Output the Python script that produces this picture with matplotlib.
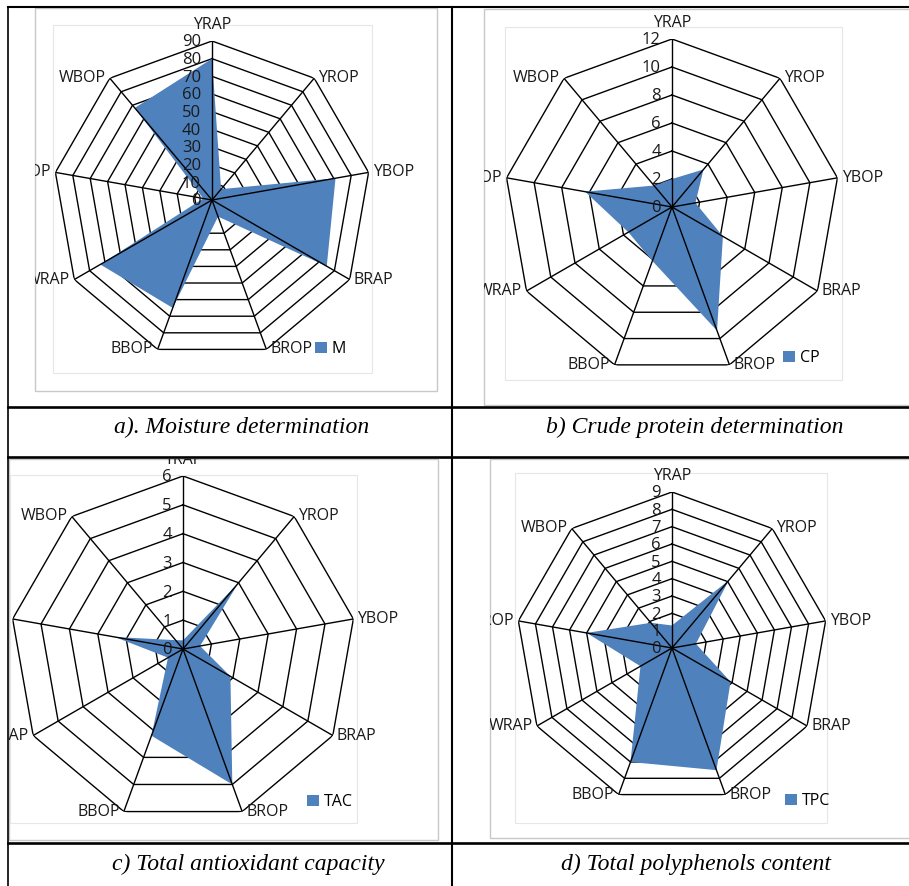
import numpy as np
import matplotlib

matplotlib.use("Agg")
import matplotlib.pyplot as plt  # noqa: E402
from matplotlib.patches import Rectangle  # noqa: E402
from matplotlib.transforms import Bbox, TransformedBbox  # noqa: E402

W, H = 909, 886  # canvas size in pixels

CATEGORIES = ["YRAP", "YROP", "YBOP", "BRAP", "BROP", "BBOP", "WRAP", "WROP", "WBOP"]

MOISTURE = [80, 8, 71, 75, 10, 65, 73, 5, 68]
CRUDE_PROTEIN = [2.0, 3.5, 1.7, 4.2, 9.4, 4.1, 3.6, 6.3, 2.0]
ANTIOXIDANT = [0.3, 3.0, 0.6, 1.9, 5.0, 3.2, 0.6, 2.4, 0.4]
POLYPHENOLS = [1.3, 5.1, 1.4, 3.9, 7.5, 7.0, 2.1, 5.0, 1.9]

M_TICKS = list(range(0, 91, 10))
CP_TICKS = list(range(0, 13, 2))
TAC_TICKS = list(range(0, 7))
TPC_TICKS = list(range(0, 10))

CAPTIONS = [
    "a). Moisture determination",
    "b) Crude protein determination",
    "c) Total antioxidant capacity",
    "d) Total polyphenols content",
]

BLUE = "#4F81BD"
LABEL_FONT = "Open Sans"


def fig_xy(x, y):
    return x / W, 1 - y / H


def radar(fig, bg, values, ticks, name, center, radius, clip, plot_area, legend_at):
    cx, cy = center
    # light chart-area / plot-area frames, drawn on the page axes (pixel units)
    x0, y0, x1, y1 = clip
    bg.add_patch(Rectangle((x0, y0), x1 - x0, y1 - y0, fill=False,
                           edgecolor="#c8c8c8", lw=1.0, zorder=0))
    px0, py0, px1, py1 = plot_area
    bg.add_patch(Rectangle((px0, py0), px1 - px0, py1 - py0, fill=False,
                           edgecolor="#e6e6e6", lw=0.8, zorder=0))

    ax = fig.add_axes([(cx - radius) / W, 1 - (cy + radius) / H,
                       2 * radius / W, 2 * radius / H], projection="polar")
    ax.set_theta_zero_location("N")
    ax.set_theta_direction(-1)
    rmax = ticks[-1]
    ax.set_ylim(0, rmax)
    ax.grid(False)
    ax.set_xticks([])
    ax.set_yticks([])
    ax.spines["polar"].set_visible(False)
    ax.patch.set_alpha(0)

    angles = np.linspace(0, 2 * np.pi, len(CATEGORIES), endpoint=False)
    closed = np.append(angles, angles[0])

    for lvl in ticks[1:]:
        ax.plot(closed, [lvl] * len(closed), color="black", lw=1.0, zorder=1)

    ax.fill(closed, np.append(values, values[0]), color=BLUE, lw=0, zorder=2, label=name)

    for a in angles:
        ax.plot([a, a], [0, rmax], color="black", lw=1.0, zorder=3)

    for t in ticks:
        ax.annotate(str(t), xy=(0, t), xytext=(-8, -1), textcoords="offset points",
                    ha="right", va="center", fontsize=12, family=LABEL_FONT,
                    color="#1a1a1a", zorder=5, annotation_clip=False)

    clip_box = TransformedBbox(Bbox.from_extents(*fig_xy(x0, y1), *fig_xy(x1, y0)),
                               fig.transFigure)
    for a, cat in zip(angles, CATEGORIES):
        s = np.sin(a)
        if abs(s) < 0.1:
            off, ha, va = (0, 6), "center", "bottom"
        elif s > 0:
            off, ha, va = (3, 0), "left", "center"
        else:
            off, ha, va = (-3, 0), "right", "center"
        txt = ax.annotate(cat, xy=(a, rmax), xytext=off, textcoords="offset points",
                          ha=ha, va=va, fontsize=11.5, family=LABEL_FONT,
                          color="#1a1a1a", annotation_clip=False)
        txt.set_clip_on(True)
        txt.set_clip_box(clip_box)

    ax.legend(loc="center left", bbox_to_anchor=fig_xy(*legend_at),
              bbox_transform=fig.transFigure, frameon=False,
              handlelength=0.75, handleheight=0.75, handletextpad=0.3,
              borderpad=0, borderaxespad=0,
              prop={"family": LABEL_FONT, "size": 11.5})
    return ax


fig = plt.figure(figsize=(W / 100, H / 100), dpi=100)

# table grid
bg = fig.add_axes([0, 0, 1, 1])
bg.set_xlim(0, W)
bg.set_ylim(H, 0)
bg.axis("off")
bg.plot([8, W], [7, 7], color="black", lw=1.5)
bg.plot([8, 8], [7, H], color="black", lw=1.2)
bg.plot([452, 452], [7, H], color="black", lw=1.5)
for y in (407, 457, 843):
    bg.plot([8, W], [y, y], color="black", lw=1.9)

radar(fig, bg, MOISTURE, M_TICKS, "M", (212, 200), 159,
      (35, 8, 437, 391), (53, 25, 372, 373), (315, 349))
radar(fig, bg, CRUDE_PROTEIN, CP_TICKS, "CP", (672, 207), 168,
      (484, 9, 915, 405), (505, 27, 842, 380), (783, 358))
radar(fig, bg, ANTIOXIDANT, TAC_TICKS, "TAC", (183, 649), 173,
      (9, 459, 438, 840), (10, 475, 357, 823), (307, 802))
radar(fig, bg, POLYPHENOLS, TPC_TICKS, "TPC", (672, 648), 156,
      (490, 459, 915, 838), (515, 473, 827, 823), (785, 801))

cap_pos = [(242, 427), (695, 427), (248, 864), (696, 864)]
for (x, y), cap in zip(cap_pos, CAPTIONS):
    bg.text(x, y, cap, ha="center", va="center", fontsize=17,
            family="Liberation Serif", style="italic", color="black")

fig.savefig("out.png", dpi=100)
